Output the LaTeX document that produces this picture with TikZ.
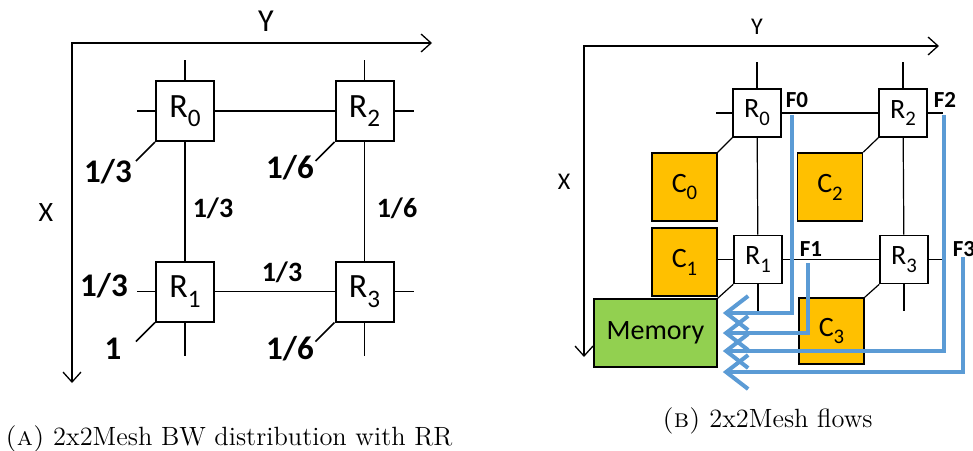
\documentclass[tikz,border=0pt]{standalone}
\usepackage{fontspec}
\newfontfamily\calibri{Carlito}
\usepackage{tikz}
\usetikzlibrary{arrows.meta, calc}
\definecolor{corefill}{HTML}{FFC000}
\definecolor{memfill}{HTML}{92D050}
\definecolor{flowblue}{HTML}{5B9BD5}
\newcommand{\fsz}[1]{\fontsize{#1}{#1}\selectfont}
\newcommand{\idx}[1]{\raisebox{-0.28em}{\scalebox{0.74}{#1}}}

\begin{document}
\begin{tikzpicture}[x=0.5pt, y=-0.5pt, every node/.style={font=\calibri}]
\useasboundingbox (0,0) rectangle (973,450);
\tikzstyle{axis}=[line width=0.65pt, {Straight Barb[length=5pt,width=9pt]}-{Straight Barb[length=5pt,width=9pt]}]
\tikzstyle{routerA}=[rectangle, draw, line width=1pt, fill=white, minimum width=29pt,
  minimum height=30pt, inner sep=0pt, font=\calibri\fsz{17}]
\tikzstyle{linkA}=[line width=0.75pt]
\tikzstyle{share}=[inner sep=0pt, font=\calibri\bfseries\fsz{16.5}]
\tikzstyle{shareS}=[inner sep=0pt, font=\calibri\bfseries\fsz{14}]
\tikzstyle{routerB}=[rectangle, draw, line width=0.85pt, fill=white, minimum width=24pt,
  minimum height=24pt, inner sep=0pt, font=\calibri\fsz{14}]
\tikzstyle{core}=[rectangle, draw, line width=0.85pt, fill=corefill, minimum width=32.5pt,
  minimum height=34pt, inner sep=0pt, font=\calibri\fsz{14}]
\tikzstyle{linkB}=[line width=0.6pt]
\tikzstyle{flowlbl}=[inner sep=0pt, font=\calibri\bfseries\fsz{11.5}]
\tikzstyle{flow}=[draw=flowblue, line width=2pt, -{Straight Barb[length=11pt,width=17pt]}]
\tikzstyle{caption}=[inner sep=0pt, anchor=base west, font=\rmfamily\fsz{13.2}]

\coordinate (xa) at (72,383);
\coordinate (ya) at (432,43);
\draw[axis] (xa) |- (ya);
\node[font=\calibri\fsz{16}] (ylblA) at (266,21) {Y};
\node[font=\calibri\fsz{14}] (xlblA) at (46,213) {X};

\node[routerA] (a0) at (185,111) {R\idx{0}};
\node[routerA] (a2) at (364.5,111) {R\idx{2}};
\node[routerA] (a1) at (185,291.5) {R\idx{1}};
\node[routerA] (a3) at (364.5,291.5) {R\idx{3}};
\draw[linkA] (a0) -- (a2);
\draw[linkA] (a0) -- (a1);
\draw[linkA] (a2) -- (a3);
\draw[linkA] (a1) -- (a3);
\draw[linkA] (a0.north) -- ++(0,-20);
\draw[linkA] (a0.west) -- ++(-18,0);
\draw[linkA] (a0.south west) -- ++(-19,19);
\draw[linkA] (a2.north) -- ++(0,-20);
\draw[linkA] (a2.east) -- ++(19,0);
\draw[linkA] (a2.south west) -- ++(-19,19);
\draw[linkA] (a1.west) -- ++(-18,0);
\draw[linkA] (a1.south) -- ++(0,33);
\draw[linkA] (a1.south west) -- ++(-19,19);
\draw[linkA] (a3.east) -- ++(19,0);
\draw[linkA] (a3.south) -- ++(0,33);
\draw[linkA] (a3.south west) -- ++(-19,19);

\node[share] (s0) at (108,172) {1/3};
\node[share] (s2) at (290,168) {1/6};
\node[shareS] (s01) at (213,208) {1/3};
\node[shareS] (s23) at (397,208) {1/6};
\node[share] (s1) at (104,286) {1/3};
\node[shareS] (s13) at (282,272) {1/3};
\node[share] (s1c) at (113,349) {1};
\node[share] (s3) at (290,349) {1/6};

\coordinate (xb) at (584,357);
\coordinate (yb) at (939,46);
\draw[axis] (xb) |- (yb);
\node[font=\calibri\fsz{12}] (ylblB) at (757,27) {Y};
\node[font=\calibri\fsz{12}] (xlblB) at (564,182) {X};

\node[core] (c0) at (684.5,187) {C\idx{0}};
\node[core] (c2) at (830,187) {C\idx{2}};
\node[core] (c1) at (684.5,262) {C\idx{1}};
\node[core, minimum height=33pt] (c3) at (831.5,331) {C\idx{3}};
\node[core, fill=memfill, minimum width=61.5pt] (mem) at (655.5,333) {Memory};

\node[routerB] (b0) at (757,113) {R\idx{0}};
\node[routerB] (b2) at (903,113) {R\idx{2}};
\node[routerB] (b1) at (758,259.5) {R\idx{1}};
\node[routerB] (b3) at (904,259.5) {R\idx{3}};
\draw[linkB] (b0) -- (b2);
\draw[linkB] (b0) -- (b1);
\draw[linkB] (b2) -- (b3);
\draw[linkB] (b1) -- (b3);
\draw[linkB] (b1.west) -- (b1.west -| c1.east);
\draw[linkB] (b0.south west) -- (c0.north east);
\draw[linkB] (b2.south west) -- (c2.north east);
\draw[linkB] (b1.south west) -- (mem.north east);
\draw[linkB] (b3.south west) -- (c3.north east);
\draw[linkB] (b0.north) -- ++(0,-26);
\draw[linkB] (b0.west) -- ++(-16,0);
\draw[linkB] (b2.north) -- ++(0,-26);
\draw[linkB] (b2.east) -- ++(15,0);
\draw[linkB] (b1.south) -- ++(0,27);
\draw[linkB] (b3.south) -- ++(0,27);
\draw[linkB] (b3.east) -- ++(14,0);

\node[flowlbl] (f0) at (797,100) {F0};
\node[flowlbl] (f2) at (945,100) {F2};
\node[flowlbl] (f1) at (811,249) {F1};
\node[flowlbl] (f3) at (964,249) {F3};
\coordinate (t0) at (792,115);
\coordinate (t1) at (808,263);
\coordinate (t2) at (944,115);
\coordinate (t3) at (963,257);
\draw[flow] (t0) |- ($(mem.east)+(5,-20)$);
\draw[flow] (t1) |- ($(mem.east)+(5,0)$);
\draw[flow] (t2) |- ($(mem.east)+(5,18)$);
\draw[flow] (t3) |- ($(mem.east)+(5,39)$);

\node[caption] (capA) at (5,445) {\textsc{(a)} 2x2Mesh BW distribution with RR};
\node[caption] (capB) at (662,427) {\textsc{(b)} 2x2Mesh flows};
\end{tikzpicture}
\end{document}
